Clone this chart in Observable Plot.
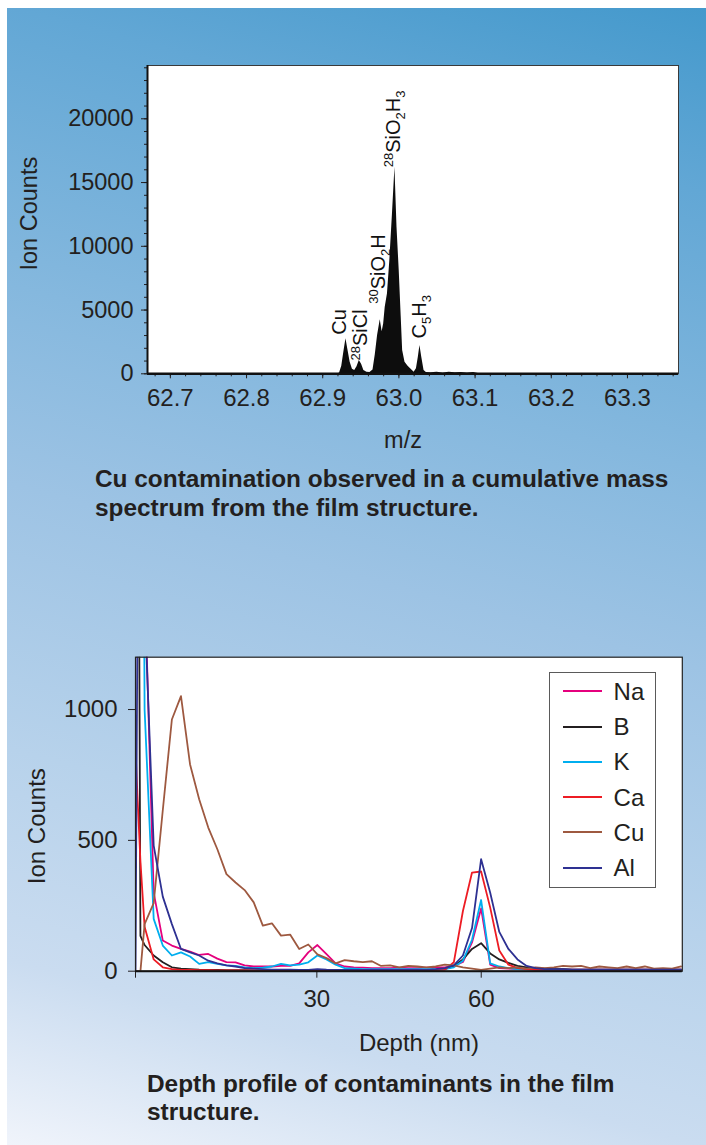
<!DOCTYPE html>
<html>
<head>
<meta charset="utf-8">
<script src="https://cdn.jsdelivr.net/npm/d3@7"></script>
<script src="https://cdn.jsdelivr.net/npm/@observablehq/plot@0.6"></script>
<style>
  html, body { margin:0; padding:0; width:706px; height:1145px; overflow:hidden; background:#fff; }
  body { position:relative; font-family:"Liberation Sans", Arial, Helvetica, sans-serif; color:#231f20; }
  #panel { position:absolute; left:7px; top:8px; width:699px; height:1137px;
    background: linear-gradient(195deg, #4499cc 0%, #62a7d5 14%, #85b8de 35%, #9dc3e4 50%, #b7d2eb 70%, #cadcf0 86%, #f0f4fb 100%); }
  .chart { position:absolute; left:0; }
  .chart svg { display:block; }
  .cap { position:absolute; font-weight:bold; font-size:24.4px; line-height:28.5px; color:#231f20; white-space:nowrap; }
  #legend { position:absolute; left:548.6px; top:671.7px; width:107.4px; height:216.6px; box-sizing:border-box; border:1.5px solid #5a5a5a; background:#fff; }
  .lg-row { position:absolute; left:0; width:100%; height:35.3px; }
  .lg-line { position:absolute; left:13px; width:39px; height:2px; top:16.6px; }
  .lg-text { position:absolute; left:64px; top:0; font-size:24px; line-height:35.3px; color:#231f20; }
</style>
</head>
<body>
<div id="panel"></div>
<div id="topChart" class="chart" style="top:0px"></div>
<div id="bottomChart" class="chart" style="top:600px"></div>
<div id="legend"></div>
<div class="cap" style="left:95px; top:465.4px">Cu contamination observed in a cumulative mass<br>spectrum from the film structure.</div>
<div class="cap" style="left:147px; top:1069.9px">Depth profile of contaminants in the film<br>structure.</div>
<script>
// ---------- Top chart: cumulative mass spectrum ----------
const mz = [62.670, 62.918, 62.922, 62.925, 62.928, 62.9305, 62.933, 62.936, 62.939, 62.942,
            62.945, 62.948, 62.951, 62.954, 62.958, 62.962, 62.966, 62.969, 62.972, 62.9755,
            62.978, 62.980, 62.982, 62.985, 62.988, 62.9915, 62.9948, 62.9975, 63.0004, 63.003,
            63.0049, 63.008, 63.012, 63.016, 63.020, 63.023, 63.0255, 63.0276, 63.030, 63.033,
            63.036, 63.042, 63.050, 63.058, 63.066, 63.074, 63.082, 63.090, 63.098, 63.106, 63.367];
const ionCounts = [0, 0, 40, 600, 1800, 2750, 1900, 900, 350, 250,
                   550, 1040, 750, 250, 120, 100, 300, 1500, 3000, 4235,
                   3300, 3900, 5200, 6270, 8800, 12500, 16200, 11500, 8100, 4500,
                   1830, 900, 600, 350, 120, 400, 1300, 2220, 1300, 250,
                   100, 90, 130, 70, 120, 90, 110, 70, 100, 0, 0];
const mzTicks = [62.7, 62.8, 62.9, 63.0, 63.1, 63.2, 63.3];
const countTicks = [0, 5000, 10000, 15000, 20000];
const peakNames = ["Cu", "^28SiCl", "^30SiO_2H", "^28SiO_2H_3", "C_5H_3"];
const peakMz = [62.9305, 62.948, 62.9755, 62.9948, 63.0276];
const peakCounts = [2750, 1040, 4235, 16200, 2220];

// ---------- Bottom chart: depth profile ----------
const depth = [-3.1, -2.7, -2.2, -1.44, 0.22, 1.88, 3.54, 5.2, 6.86, 8.52,
               10.18, 11.84, 13.5, 15.16, 16.82, 18.48, 20.14, 21.8, 23.46, 25.12,
               26.78, 28.44, 30.1, 31.76, 33.42, 35.08, 36.74, 38.4, 40.06, 41.72,
               43.38, 45.04, 46.7, 48.36, 50.02, 51.68, 53.34, 55.0, 56.66, 58.32,
               59.98, 61.64, 63.3, 64.96, 66.62, 68.28, 69.94, 71.6, 73.26, 74.92,
               76.58, 78.24, 79.9, 81.56, 83.22, 84.88, 86.54, 88.2, 89.86, 91.52,
               93.18, 94.84, 96.5];
const elements = ["Na", "B", "K", "Ca", "Cu", "Al"];
const elementColors = ["#e5007d", "#231f20", "#00aeef", "#ed1c24", "#9e5940", "#2e3192"];
const naCounts = [5000, 5000, 4000, 1500, 300, 117, 98, 85, 75, 62,
                  66, 48, 35, 34, 22, 18, 18, 18, 20, 20,
                  30, 72, 100, 65, 30, 18, 15, 14, 12, 12,
                  12, 14, 12, 12, 14, 15, 15, 20, 35, 110,
                  240, 25, 12, 10, 8, 8, 6, 6, 6, 6,
                  6, 6, 6, 6, 6, 6, 6, 6, 6, 6,
                  6, 6, 6];
const bCounts = [5000, 2800, 135, 100, 60, 34, 15, 10, 8, 6,
                 5, 5, 4, 4, 4, 3, 3, 3, 3, 3,
                 3, 3, 3, 3, 3, 3, 3, 3, 3, 3,
                 3, 3, 3, 4, 4, 5, 8, 20, 45, 85,
                 107, 68, 45, 32, 20, 15, 12, 10, 8, 8,
                 6, 6, 6, 6, 6, 6, 6, 6, 6, 6,
                 6, 6, 6];
const kCounts = [5000, 5000, 4000, 1000, 200, 98, 60, 72, 56, 28,
                 35, 28, 22, 20, 15, 12, 14, 18, 28, 22,
                 25, 34, 60, 45, 25, 12, 10, 8, 8, 8,
                 8, 8, 8, 8, 8, 8, 8, 15, 40, 120,
                 272, 30, 18, 12, 8, 6, 6, 5, 5, 5,
                 5, 5, 5, 5, 5, 5, 5, 5, 5, 5,
                 5, 5, 5];
const caCounts = [850, 650, 420, 170, 45, 15, 8, 5, 5, 4,
                  4, 3, 3, 3, 3, 3, 3, 3, 3, 3,
                  3, 3, 3, 3, 3, 3, 3, 3, 3, 3,
                  3, 3, 3, 3, 3, 4, 5, 34, 230, 377,
                  381, 243, 79, 25, 12, 8, 5, 5, 5, 5,
                  5, 5, 5, 5, 5, 5, 5, 5, 5, 5,
                  5, 5, 5];
const cuCounts = [0, 0, 0, 180, 260, 615, 962, 1051, 790, 657,
                  549, 466, 371, 339, 310, 263, 174, 183, 136, 140,
                  85, 102, 64, 50, 30, 42, 38, 35, 38, 20,
                  22, 15, 20, 18, 15, 18, 25, 22, 15, 10,
                  5, 10, 15, 12, 15, 10, 15, 12, 15, 20,
                  18, 20, 12, 18, 15, 12, 18, 12, 18, 10,
                  12, 10, 18];
const alCounts = [0, 1500, 3000, 1400, 480, 285, 180, 85, 72, 60,
                  40, 30, 22, 18, 12, 10, 8, 6, 6, 6,
                  5, 5, 8, 6, 5, 5, 5, 5, 5, 5,
                  5, 5, 5, 5, 5, 8, 12, 22, 60, 165,
                  428, 300, 150, 85, 45, 20, 12, 8, 8, 8,
                  6, 6, 6, 6, 6, 6, 6, 6, 6, 6,
                  6, 6, 6];
const depthTicks = [30, 60];
const profileTicks = [0, 500, 1000];

// ---------- Build tables ----------
const spectrum = mz.map((m, i) => ({mz: m, count: ionCounts[i]}));
const seriesCounts = [naCounts, bCounts, kCounts, caCounts, cuCounts, alCounts];
const profile = elements.flatMap((el, j) => depth.map((d, i) => ({depth: d, count: seriesCounts[j][i], element: el})));

const FONT = '"Liberation Sans", Arial, Helvetica, sans-serif';
const mzDomain = [62.67, 63.367];
const mzMinor = d3.range(0, 35).map(i => 62.68 + i * 0.02);
const countMinor = d3.range(0, 25).map(i => i * 1000);
const labelOffsets = [[-6, -4], [1, 0], [-2, -16], [-1, 0], [0, -7]];

const topPlot = Plot.plot({
  width: 706, height: 470,
  marginLeft: 147, marginRight: 28, marginTop: 65, marginBottom: 96.7,
  style: {fontFamily: FONT, fontSize: "23.5px", color: "#231f20", background: "transparent", overflow: "visible"},
  x: {domain: mzDomain},
  y: {domain: [0, 24180]},
  marks: [
    Plot.frame({fill: "white", stroke: null}),
    Plot.areaY(spectrum, {x: "mz", y: "count", fill: "#0d0d0d"}),
    Plot.frame({stroke: "#3a3a3a", strokeWidth: 1}),
    Plot.axisX(mzMinor, {tickSize: 3, tickFormat: () => "", label: null}),
    Plot.axisX(mzTicks, {tickSize: 5, tickPadding: 10, fontSize: 24, tickFormat: d => d.toFixed(1), label: null}),
    Plot.axisY(countMinor, {tickSize: 3, tickFormat: () => "", label: null}),
    Plot.axisY(countTicks, {tickSize: 6, tickPadding: 8, tickFormat: d => String(d), label: null}),
    Plot.ruleY([0], {stroke: "#111", strokeWidth: 2.5}),
    Plot.ruleX([mzDomain[0]], {stroke: "#111", strokeWidth: 2}),
    ...peakNames.map((name, i) => Plot.text([i], {
      x: j => peakMz[j], y: j => peakCounts[j], text: j => peakNames[j],
      rotate: -90, textAnchor: "start", dx: labelOffsets[i][0], dy: labelOffsets[i][1],
      fontSize: 20, fill: "#111"
    })),
    Plot.text(["m/z"], {frameAnchor: "bottom", text: d => d, textAnchor: "middle", lineAnchor: "middle", dx: -10, dy: 67}),
    Plot.text(["Ion Counts"], {frameAnchor: "left", text: d => d, rotate: -90, textAnchor: "middle", lineAnchor: "middle", dx: -118, dy: -6})
  ]
});
document.getElementById("topChart").appendChild(topPlot);

// superscripts / subscripts in peak labels
topPlot.querySelectorAll("text").forEach(function(node) {
  const raw = node.textContent;
  if (!peakNames.includes(raw)) return;
  const parts = raw.match(/\^\d+|_\d+|[^\^_]+/g) || [];
  node.textContent = "";
  for (const p of parts) {
    const t = document.createElementNS("http://www.w3.org/2000/svg", "tspan");
    if (p[0] === "^") { t.textContent = p.slice(1); t.style.fontSize = "13px"; t.style.baselineShift = "7px"; }
    else if (p[0] === "_") { t.textContent = p.slice(1); t.style.fontSize = "13px"; t.style.baselineShift = "-5px"; }
    else t.textContent = p;
    node.appendChild(t);
  }
});

const depthDomain = [-3.1, 96.7];
const bottomPlot = Plot.plot({
  width: 706, height: 470,
  marginLeft: 135, marginRight: 24.2, marginTop: 56.7, marginBottom: 99.3,
  style: {fontFamily: FONT, fontSize: "24px", color: "#231f20", background: "transparent", overflow: "visible"},
  x: {domain: depthDomain},
  y: {domain: [0, 1200]},
  color: {domain: elements, range: elementColors},
  marks: [
    Plot.frame({fill: "white", stroke: null}),
    Plot.line(profile, {x: "depth", y: "count", z: "element", stroke: "element", strokeWidth: 1.8, clip: true, strokeLinejoin: "round"}),
    Plot.frame({stroke: "#222", strokeWidth: 1.2}),
    Plot.axisX([depthDomain[0]], {tickSize: 7, tickFormat: () => "", label: null}),
    Plot.axisX(depthTicks, {tickSize: 7, tickPadding: 12, tickFormat: d => String(d), label: null}),
    Plot.axisY(profileTicks, {tickSize: 7, tickPadding: 11, tickFormat: d => String(d), label: null}),
    Plot.ruleY([0], {stroke: "#111", strokeWidth: 2}),
    Plot.text(["Depth (nm)"], {frameAnchor: "bottom", text: d => d, textAnchor: "middle", lineAnchor: "middle", dx: 10, dy: 72}),
    Plot.text(["Ion Counts"], {frameAnchor: "left", text: d => d, rotate: -90, textAnchor: "middle", lineAnchor: "middle", dx: -98, dy: 12})
  ]
});
document.getElementById("bottomChart").appendChild(bottomPlot);

// legend (HTML, drawn over the plot frame)
const legend = document.getElementById("legend");
elements.forEach((el, i) => {
  const row = document.createElement("div");
  row.className = "lg-row";
  row.style.top = (1 + i * 35.3) + "px";
  const line = document.createElement("div");
  line.className = "lg-line";
  line.style.background = elementColors[i];
  const txt = document.createElement("div");
  txt.className = "lg-text";
  txt.textContent = el;
  row.appendChild(line); row.appendChild(txt);
  legend.appendChild(row);
});
</script>
</body>
</html>
